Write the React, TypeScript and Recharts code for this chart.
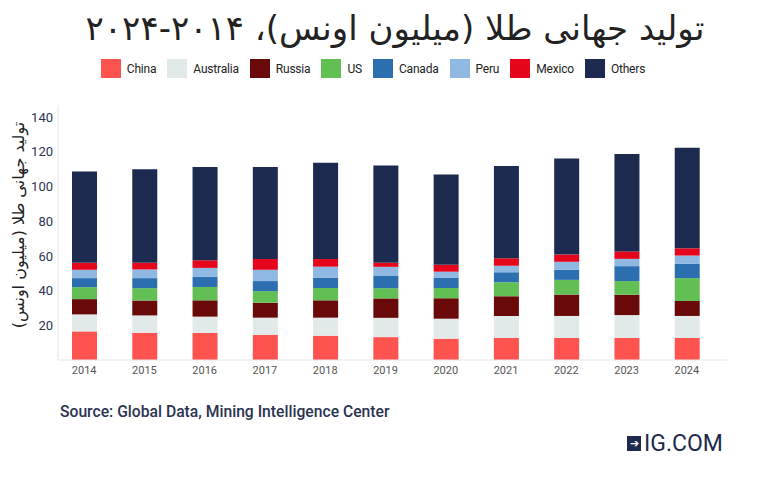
import { BarChart, Bar, XAxis, YAxis } from "recharts";

const years = ["2014", "2015", "2016", "2017", "2018", "2019", "2020", "2021", "2022", "2023", "2024"];

// million ounces
const china = [16.5, 15.7, 15.6, 14.4, 14.0, 13.2, 12.3, 12.7, 12.7, 12.7, 12.7];
const australia = [9.8, 10.0, 9.4, 10.0, 10.4, 11.1, 11.5, 12.7, 12.7, 13.2, 12.7];
const russia = [8.8, 8.6, 9.4, 8.6, 10.0, 11.2, 11.8, 11.3, 12.3, 11.7, 8.6];
const us = [6.9, 7.1, 7.7, 6.7, 7.1, 5.9, 5.9, 8.1, 8.5, 7.9, 13.2];
const canada = [5.2, 5.8, 5.8, 5.8, 5.8, 7.3, 5.8, 5.8, 5.8, 8.6, 8.2];
const peru = [4.8, 5.0, 5.2, 6.5, 6.5, 5.0, 3.6, 3.8, 4.6, 4.2, 4.8];
const mexico = [4.0, 3.8, 4.4, 6.2, 4.4, 2.3, 4.0, 4.3, 4.2, 4.3, 4.2];
const others = [52.6, 54.0, 53.7, 53.0, 55.5, 56.1, 52.1, 53.2, 55.3, 56.2, 58.0];

const yTicks = [20, 40, 60, 80, 100, 120, 140];

const series = [
  { key: "China", values: china, color: "#ff5350" },
  { key: "Australia", values: australia, color: "#e2e9e9" },
  { key: "Russia", values: russia, color: "#6a0909" },
  { key: "US", values: us, color: "#62bf53" },
  { key: "Canada", values: canada, color: "#2b6fb1" },
  { key: "Peru", values: peru, color: "#8fb8e2" },
  { key: "Mexico", values: mexico, color: "#e5061c" },
  { key: "Others", values: others, color: "#1b2a4e" },
];

const data = years.map((year, i) => {
  const row: Record<string, string | number> = { year };
  series.forEach((s) => {
    row[s.key] = s.values[i];
  });
  return row;
});

const latin = "Roboto, 'Noto Sans', sans-serif";
const persian = "'DejaVu Sans', sans-serif";

export default function App() {
  return (
    <div
      style={{
        position: "absolute",
        left: 0,
        top: 0,
        width: 757,
        height: 481,
        background: "#ffffff",
        overflow: "hidden",
      }}
    >
      {/* title */}
      <div
        dir="rtl"
        style={{
          position: "absolute",
          top: 8,
          left: 0,
          width: 790,
          textAlign: "center",
          fontFamily: persian,
          fontSize: 34,
          color: "#222222",
          whiteSpace: "nowrap",
        }}
      >
        تولید جهانی طلا (میلیون اونس)، ۲۰۱۴‐۲۰۲۴
      </div>

      {/* legend */}
      <div
        style={{
          position: "absolute",
          top: 59,
          left: 0,
          width: 757,
          display: "flex",
          justifyContent: "center",
          fontFamily: latin,
          fontSize: 12,
          letterSpacing: -0.2,
          color: "#222222",
        }}
      >
        {series.map((s) => (
          <div key={s.key} style={{ display: "flex", alignItems: "center", marginRight: 11 }}>
            <span style={{ display: "inline-block", width: 20, height: 19, background: s.color, marginRight: 6 }} />
            <span>{s.key}</span>
          </div>
        ))}
      </div>

      {/* y axis title */}
      <div
        dir="rtl"
        style={{
          position: "absolute",
          left: 18,
          top: 225,
          transform: "translate(-50%, -50%) rotate(-90deg)",
          fontFamily: persian,
          fontSize: 16,
          color: "#222222",
          whiteSpace: "nowrap",
        }}
      >
        تولید جهانی طلا (میلیون اونس)
      </div>

      <div style={{ position: "absolute", left: 0, top: 0 }}>
        <BarChart
          width={757}
          height={481}
          data={data}
          margin={{ top: 105, right: 30, bottom: 91, left: 0 }}
        >
          <XAxis
            dataKey="year"
            height={30}
            padding={{ left: -4, right: 10 }}
            axisLine={{ stroke: "#e6e6e6" }}
            tickLine={false}
            tickSize={0}
            tickMargin={6}
            tick={{ fill: "#555555", fontSize: 11, fontFamily: latin }}
          />
          <YAxis
            width={58}
            domain={[0, 147]}
            ticks={yTicks}
            axisLine={{ stroke: "#e6e6e6" }}
            tickLine={false}
            tickSize={0}
            tickMargin={5}
            tick={{ fill: "#2b3452", fontSize: 13, fontFamily: latin }}
          />
          {series.map((s) => (
            <Bar
              key={s.key}
              dataKey={s.key}
              stackId="gold"
              fill={s.color}
              barSize={25}
              isAnimationActive={false}
            />
          ))}
        </BarChart>
      </div>

      {/* footer */}
      <div
        style={{
          position: "absolute",
          left: 60,
          top: 402,
          fontFamily: latin,
          fontSize: 15.7,
          fontWeight: 500,
          color: "#2a3350",
        }}
      >
        Source: Global Data, Mining Intelligence Center
      </div>
      <div
        style={{
          position: "absolute",
          left: 627,
          top: 430,
          display: "flex",
          alignItems: "center",
          fontFamily: latin,
          fontSize: 23,
          color: "#1d2a4e",
        }}
      >
        <span
          style={{
            display: "inline-block",
            width: 14,
            height: 15,
            background: "#1d2a4e",
            color: "#ffffff",
            fontSize: 11,
            lineHeight: "15px",
            textAlign: "center",
            marginRight: 3,
          }}
        >
          ➔
        </span>
        <span>IG.COM</span>
      </div>
    </div>
  );
}
